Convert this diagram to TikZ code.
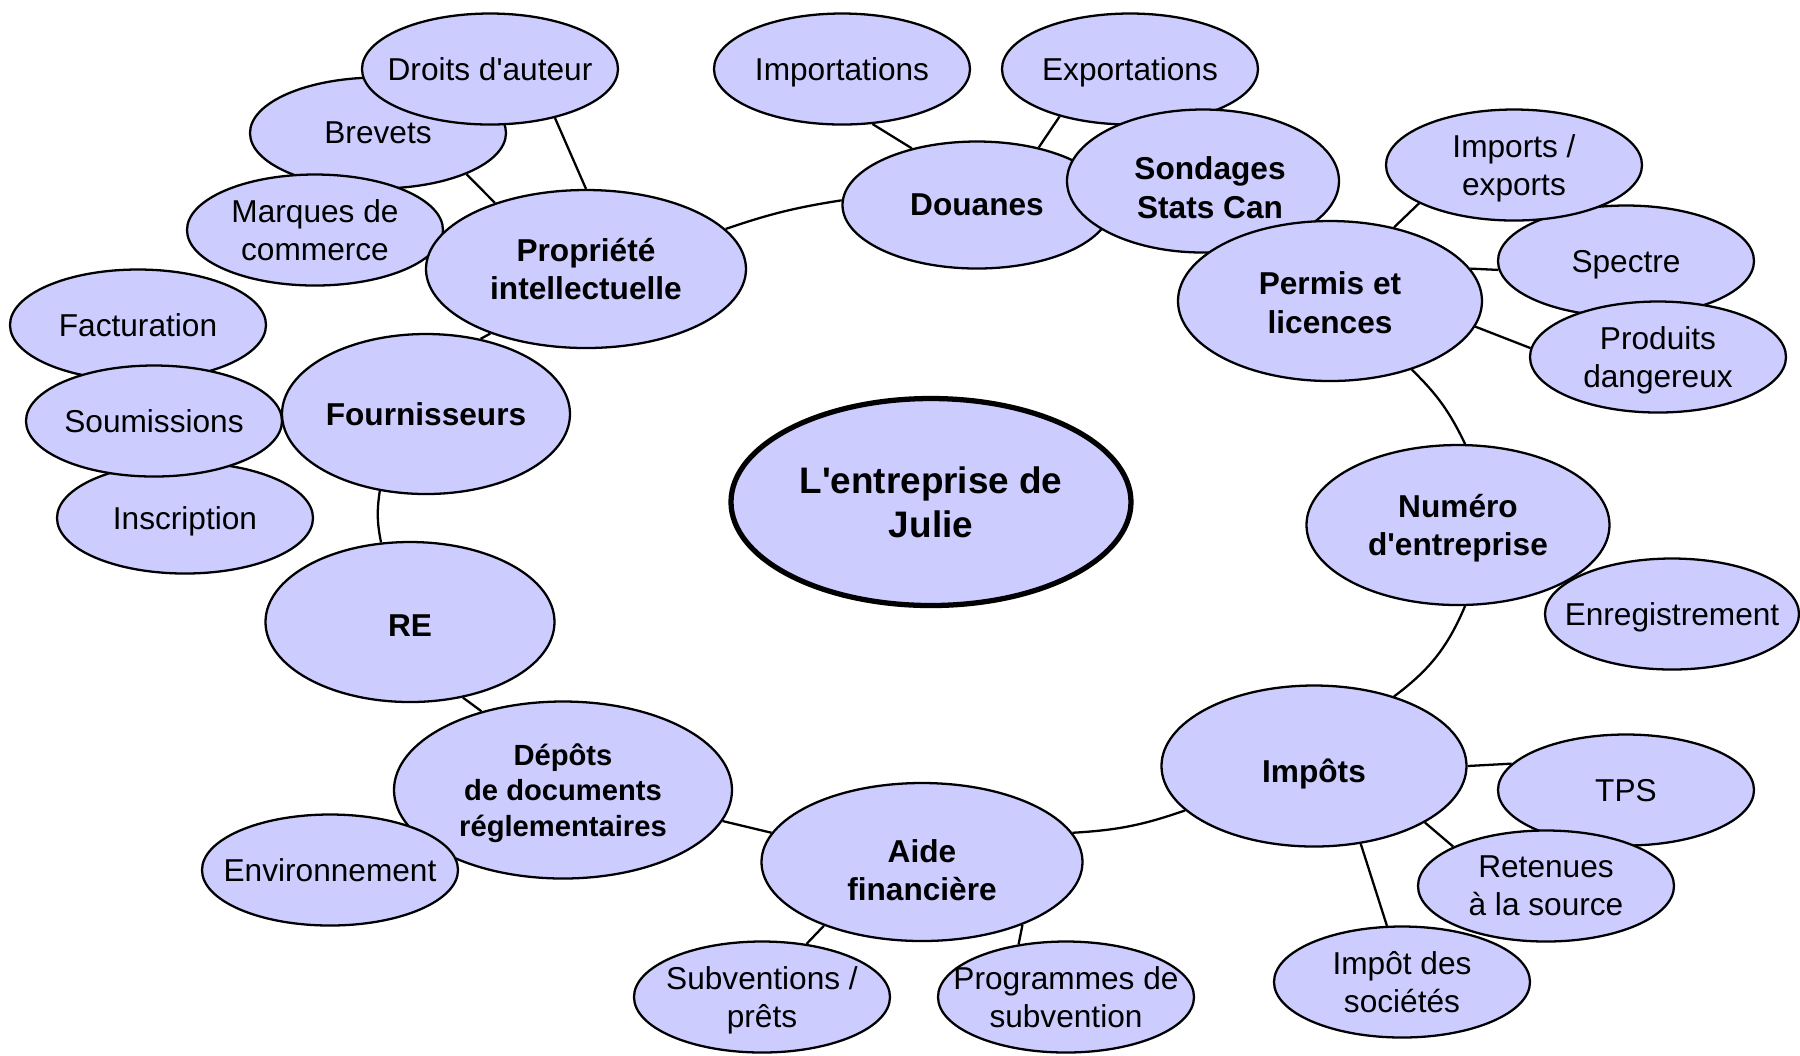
\documentclass[tikz,border=0pt]{standalone}
\usepackage{fontspec}
\setmainfont{Liberation Sans}[Ligatures=TeXOff]
\usetikzlibrary{shapes.geometric,backgrounds}
\definecolor{bubbleFill}{HTML}{CCCCFF}

\begin{document}
\begin{tikzpicture}[
        bubble/.style = {shape=ellipse,draw=black,line width=0.65pt,fill=bubbleFill,inner xsep=-8pt,inner ysep=0pt,text depth=0pt,align=center},
        leafNode/.style = {bubble,minimum width=2.56cm,minimum height=1.11cm,font=\fontsize{9}{10.8}\selectfont},
        hubNode/.style = {bubble,minimum width=3.04cm,minimum height=1.60cm,font=\fontsize{9}{11}\selectfont\bfseries},
        mainNode/.style = {bubble,line width=1.5pt,minimum width=4.0cm,minimum height=2.07cm,font=\fontsize{10.5}{12.5}\selectfont\bfseries},
        dropText/.style = {execute at begin node={\rule{0pt}{#1}}},
        link/.style = {draw=black,line width=0.65pt}
        ]
    \useasboundingbox (0,0) rectangle (18,-10.55);

    % propriete intellectuelle
    \node[leafNode] (brevets) at (3.78,-1.33) {Brevets};
    \node[leafNode] (droits) at (4.90,-0.69) {Droits d'auteur};
    \node[leafNode] (marques) at (3.15,-2.30) {Marques de\\commerce};
    \node[hubNode,minimum width=3.20cm,minimum height=1.58cm] (propriete) at (5.86,-2.69) {Propriété\\intellectuelle};

    % douanes, sondages
    \node[leafNode] (importations) at (8.42,-0.69) {Importations};
    \node[leafNode] (exportations) at (11.30,-0.69) {Exportations};
    \node[hubNode,minimum width=2.69cm,minimum height=1.27cm] (douanes) at (9.77,-2.05) {Douanes};
    \node[hubNode,minimum width=2.72cm,minimum height=1.43cm,dropText=21.3pt] (sondages) at (12.03,-1.81) {\hspace*{4pt}Sondages\\\hspace*{4pt}Stats Can};

    % permis
    \node[leafNode] (spectre) at (16.26,-2.61) {Spectre};
    \node[leafNode] (imports) at (15.14,-1.65) {Imports /\\exports};
    \node[leafNode] (produits) at (16.58,-3.57) {Produits\\dangereux};
    \node[hubNode,dropText=18.4pt] (permis) at (13.30,-3.01) {Permis et\\licences};

    % numero
    \node[hubNode,minimum width=3.03cm] (numero) at (14.58,-5.25) {Numéro\\d'entreprise};
    \node[leafNode,minimum width=2.54cm] (enregistrement) at (16.72,-6.14) {Enregistrement};

    % impots
    \node[hubNode,minimum width=3.05cm,minimum height=1.61cm,dropText=9.4pt] (impots) at (13.14,-7.66) {Impôts};
    \node[leafNode] (tps) at (16.26,-7.90) {TPS};
    \node[leafNode] (retenues) at (15.46,-8.86) {Retenues\\à la source};
    \node[leafNode] (societes) at (14.02,-9.82) {Impôt des\\sociétés};

    % aide
    \node[hubNode,minimum width=3.21cm,minimum height=1.58cm,dropText=22pt] (aide) at (9.22,-8.62) {Aide\\financière};
    \node[leafNode] (subventions) at (7.62,-9.97) {Subventions /\\prêts};
    \node[leafNode] (programmes) at (10.66,-9.97) {Programmes de\\subvention};

    % depots
    \node[hubNode,minimum width=3.38cm,minimum height=1.77cm,font=\fontsize{8.3}{10}\selectfont\bfseries] (depots) at (5.63,-7.90) {Dépôts\\de documents\\réglementaires};
    \node[leafNode] (environnement) at (3.30,-8.70) {Environnement};

    % re, fournisseurs
    \node[hubNode,minimum width=2.89cm,dropText=8.5pt] (re) at (4.10,-6.22) {RE};
    \node[leafNode] (facturation) at (1.38,-3.25) {Facturation};
    \node[leafNode] (inscription) at (1.85,-5.18) {Inscription};
    \node[leafNode] (soumissions) at (1.54,-4.21) {Soumissions};
    \node[hubNode,minimum width=2.88cm] (fournisseurs) at (4.26,-4.14) {Fournisseurs};

    \node[mainNode] (julie) at (9.31,-5.02) {L'entreprise de\\Julie};

    \begin{scope}[on background layer]
        \draw[link] (droits.-37) -- (propriete.90);
        \draw[link] (brevets.-25) -- (propriete.144);
        \draw[link] (propriete.16) to[bend left=5] (douanes.178);
        \draw[link] (importations.-61) -- (douanes.139);
        \draw[link] (exportations.214) -- (douanes.43);
        \draw[link] (permis.49) -- (imports.202);
        \draw[link] (permis.13) -- (spectre.184);
        \draw[link] (permis.-10) -- (produits.176);
        \draw[link] (permis.-40) to[bend left=10] (numero.85);
        \draw[link] (numero.-85) to[bend left=15] (impots.41);
        \draw[link] (impots.0) -- (tps.167);
        \draw[link] (impots.-27) -- (retenues.157);
        \draw[link] (impots.-59) -- (societes.105);
        \draw[link] (impots.199) to[bend left=8] (aide.11);
        \draw[link] (aide.213) -- (subventions.50);
        \draw[link] (aide.-32) -- (programmes.132);
        \draw[link] (aide.169) -- (depots.-11);
        \draw[link] (depots.136) -- (re.-55);
        \draw[link] (re.110) to[bend left=10] (fournisseurs.-121);
        \draw[link] (fournisseurs.54) -- (propriete.-146);
    \end{scope}
\end{tikzpicture}
\end{document}
